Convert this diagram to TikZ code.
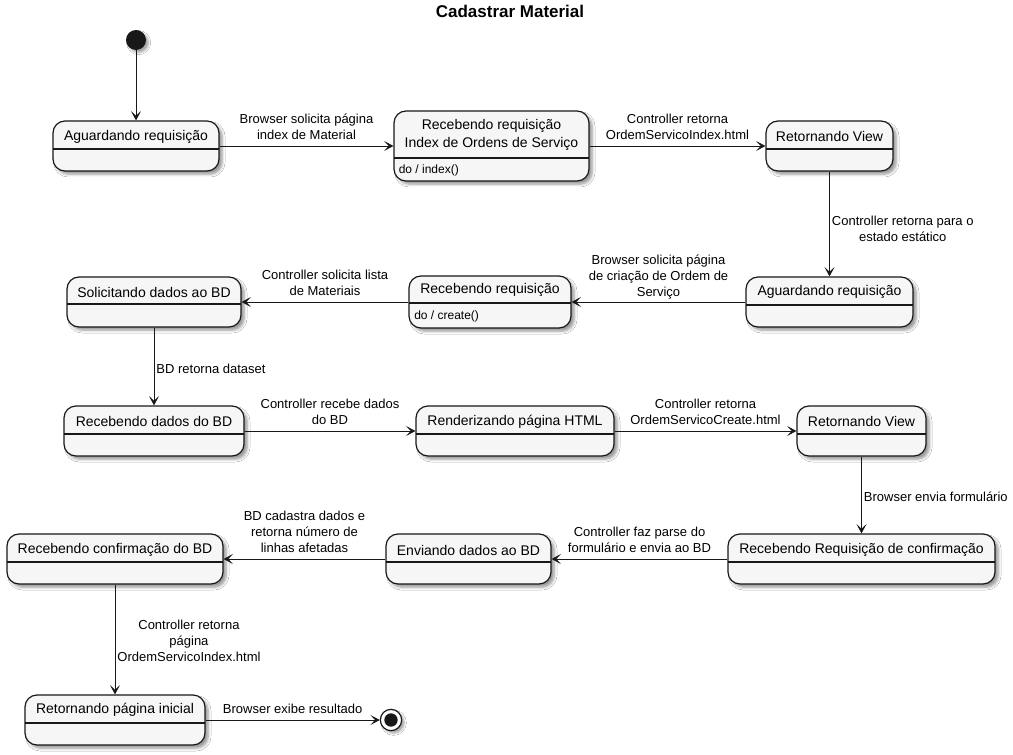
\documentclass[tikz,border=0pt]{standalone}
\usepackage{fontspec}
\setmainfont{Liberation Sans}
\usetikzlibrary{arrows.meta,shadows.blur,fit}
\definecolor{stfill}{HTML}{F6F6F6}
\definecolor{stline}{HTML}{181818}
\tikzset{
  stbox/.style={draw=stline, fill=stfill, line width=0.9pt, rounded corners=9pt, inner sep=0pt,
    blur shadow={shadow xshift=2.5pt, shadow yshift=-2.5pt, shadow blur radius=2pt, shadow opacity=40}},
  divline/.style={draw=stline, line width=0.9pt},
  sttitle/.style={font=\fontsize{10.5}{13.5}\selectfont, align=center, inner sep=0pt, text=black},
  stbody/.style={font=\fontsize{9}{11}\selectfont, inner sep=0pt, anchor=west, text=black},
  arr/.style={draw=stline, line width=0.65pt, -{Stealth[length=7pt, width=7.5pt, inset=3.5pt]}},
  lblh/.style={anchor=south, align=center, font=\fontsize{9.75}{12}\selectfont, inner sep=0pt, text depth=0pt, yshift=4.5pt},
  lblv/.style={anchor=west, align=center, font=\fontsize{9.75}{12}\selectfont, inner sep=0pt, xshift=1.5pt},
}
\newcommand\mkstate[8]{%
  \node[stbox, fit={(#2,#3) (#4,#5)}] (#1) {};
  \draw[divline] (#2,#6) -- (#4,#6);
  \node[sttitle] (#1t) at ({(#2+#4)/2},#7) {#8};
}
\begin{document}
\begin{tikzpicture}[x=0.75pt,y=-0.75pt]
\useasboundingbox[fill=white] (0,0) rectangle (1013,755);

\node[font=\bfseries\fontsize{12.75}{15}\selectfont, inner sep=0pt] (title) at (510,11.5) {Cadastrar Material};

\node[circle, fill=stline, minimum size=15pt, inner sep=0pt,
  blur shadow={shadow xshift=2pt, shadow yshift=-2pt, shadow blur radius=1.5pt, shadow opacity=35}] (start) at (136,40) {};

\mkstate{a1}{53}{121}{219}{171}{149}{136.5}{Aguardando requisição}
\mkstate{b2}{394}{111}{589}{181}{158}{135.2}{Recebendo requisição\\Index de Ordens de Serviço}
\node[stbody] (b2d) at (398.5,170) {do / index()};
\mkstate{c3}{766}{121}{893}{171}{149}{136}{Retornando View}
\mkstate{d4}{746}{277}{913}{327}{305}{292.3}{Aguardando requisição}
\mkstate{e5}{409}{276}{571}{328}{303}{290}{Recebendo requisição}
\node[stbody] (e5d) at (414,316.5) {do / create()};
\mkstate{f6}{67}{277}{241}{327}{304}{292.5}{Solicitando dados ao BD}
\mkstate{g7}{64}{406}{244}{456}{434}{421.7}{Recebendo dados do BD}
\mkstate{h8}{416}{406}{614}{456}{434}{422}{Renderizando página HTML}
\mkstate{i9}{797}{406}{926}{456}{434}{421.7}{Retornando View}
\mkstate{j10}{728}{534}{995}{584}{562}{550}{Recebendo Requisição de confirmação}
\mkstate{k11}{386}{534}{551}{584}{562}{550}{Enviando dados ao BD}
\mkstate{l12}{7}{534}{223}{584}{562}{550}{Recebendo confirmação do BD}
\mkstate{m13}{25}{695}{205}{745}{723}{710}{Retornando página inicial}

\node[circle, draw=stline, line width=0.9pt, fill=white, minimum size=16pt, inner sep=0pt,
  blur shadow={shadow xshift=2pt, shadow yshift=-2pt, shadow blur radius=1.5pt, shadow opacity=35}] (end) at (391,720) {};
\fill[stline] (end.center) circle (5pt);

\draw[arr] (start) -- (a1);
\draw[arr] (a1) -- node[lblh] {Browser solicita página\\index de Material} (b2);
\draw[arr] (b2) -- node[lblh] {Controller retorna\\OrdemServicoIndex.html} (c3);
\draw[arr] (c3) -- node[lblv, yshift=-4pt] {Controller retorna para o\\estado estático} (d4);
\draw[arr] (d4) -- node[lblh, yshift=-1pt] {Browser solicita página\\de criação de Ordem de\\Serviço} (e5);
\draw[arr] (e5) -- node[lblh] {Controller solicita lista\\de Materiais} (f6);
\draw[arr] (f6) -- node[lblv, yshift=-1.5pt] {BD retorna dataset} (g7);
\draw[arr] (g7) -- node[lblh] {Controller recebe dados\\do BD} (h8);
\draw[arr] (h8) -- node[lblh] {Controller retorna\\OrdemServicoCreate.html} (i9);
\draw[arr] (i9) -- node[lblv, yshift=-1.2pt] {Browser envia formulário} (j10);
\draw[arr] (j10) -- node[lblh] {Controller faz parse do\\formulário e envia ao BD} (k11);
\draw[arr] (k11) -- node[lblh] {BD cadastra dados e\\retorna número de\\linhas afetadas} (l12);
\draw[arr] (l12) -- node[lblv, yshift=-1pt] {Controller retorna\\página\\OrdemServicoIndex.html} (m13);
\draw[arr] (m13) -- node[lblh] {Browser exibe resultado} (end);
\end{tikzpicture}
\end{document}
